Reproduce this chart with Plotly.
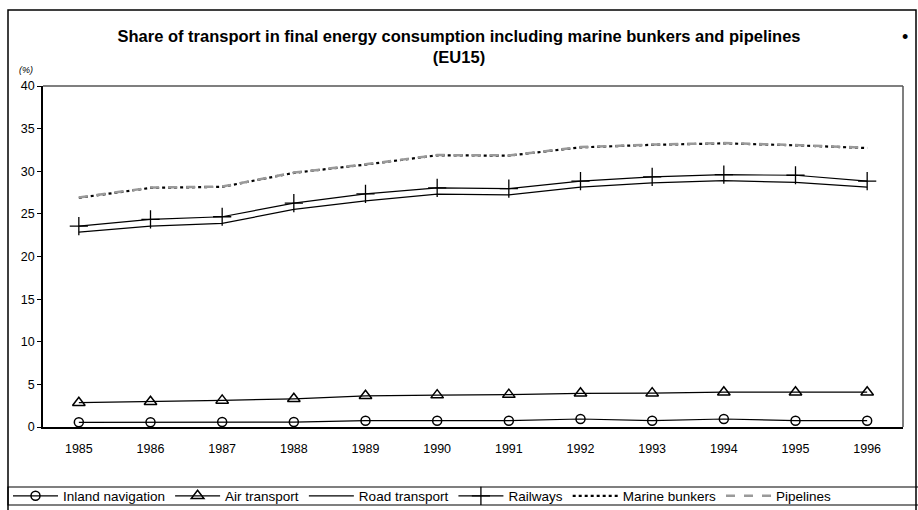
import plotly.graph_objects as go

years = ["1985", "1986", "1987", "1988", "1989", "1990", "1991", "1992", "1993", "1994", "1995", "1996"]
inland_navigation = [0.55, 0.55, 0.58, 0.58, 0.74, 0.74, 0.74, 0.94, 0.74, 0.94, 0.74, 0.74]
air_transport = [2.85, 2.96, 3.12, 3.31, 3.66, 3.74, 3.80, 3.95, 3.97, 4.08, 4.08, 4.08]
road_transport = [22.87, 23.57, 23.89, 25.52, 26.53, 27.31, 27.23, 28.13, 28.64, 28.90, 28.70, 28.13]
railways = [23.57, 24.36, 24.66, 26.26, 27.35, 28.05, 27.97, 28.83, 29.34, 29.60, 29.53, 28.83]
marine_bunkers = [26.88, 28.05, 28.17, 29.81, 30.78, 31.87, 31.83, 32.80, 33.10, 33.27, 33.04, 32.72]
pipelines = [26.92, 28.08, 28.20, 29.84, 30.81, 31.90, 31.86, 32.83, 33.13, 33.30, 33.07, 32.75]
y_ticks = [0, 5, 10, 15, 20, 25, 30, 35, 40]

FONT = "Liberation Sans, Arial, sans-serif"
fig = go.Figure()

fig.add_trace(go.Scatter(x=years, y=inland_navigation, name="Inland navigation", mode="lines+markers",
                         line=dict(color="black", width=1.2),
                         marker=dict(symbol="circle-open", size=9, color="black", line=dict(width=1.5))))
fig.add_trace(go.Scatter(x=years, y=air_transport, name="Air transport", mode="lines+markers",
                         line=dict(color="black", width=1.2),
                         marker=dict(symbol="triangle-up-open", size=11, color="black", line=dict(width=1.5))))
fig.add_trace(go.Scatter(x=years, y=road_transport, name="Road transport", mode="lines",
                         line=dict(color="black", width=1.2)))
fig.add_trace(go.Scatter(x=years, y=railways, name="Railways", mode="lines+markers",
                         line=dict(color="black", width=1.2),
                         marker=dict(symbol="cross-thin-open", size=13, color="black", line=dict(width=1.3, color="black"))))
fig.add_trace(go.Scatter(x=years, y=marine_bunkers, name="Marine bunkers", mode="lines",
                         line=dict(color="black", width=2.2, dash="dot")))
fig.add_trace(go.Scatter(x=years, y=pipelines, name="Pipelines", mode="lines",
                         line=dict(color="#9a9a9a", width=2.5, dash="dash")))

def px(x):
    return (x - 43) / 860.0

def py(y):
    return (427 - y) / 341.0

shapes = [
    # outer chart border
    dict(type="rect", xref="paper", yref="paper", x0=px(8), x1=px(916), y0=py(515), y1=py(10),
         line=dict(color="black", width=1.5), fillcolor="rgba(0,0,0,0)", layer="below"),
    # legend box
    dict(type="rect", xref="paper", yref="paper", x0=px(8), x1=px(930), y0=py(505), y1=py(487),
         line=dict(color="black", width=1.2), fillcolor="rgba(0,0,0,0)"),
    # plot area top and right
    dict(type="line", xref="paper", yref="paper", x0=0, x1=1, y0=1, y1=1,
         line=dict(color="#555555", width=1.5)),
    dict(type="line", xref="paper", yref="paper", x0=1, x1=1, y0=0, y1=1,
         line=dict(color="#555555", width=1.5)),
]

fig.update_layout(
    width=918, height=510,
    margin=dict(l=43, r=15, t=86, b=83, autoexpand=False),
    paper_bgcolor="white", plot_bgcolor="white",
    font=dict(family=FONT, color="black", size=12),
    title=dict(text="<b>Share of transport in final energy consumption including marine bunkers and pipelines<br>(EU15)</b>",
               x=459 / 918, xanchor="center", xref="container", y=1 - 42 / 510, yanchor="middle",
               yref="container", font=dict(size=16.5, family=FONT)),
    showlegend=True,
    legend=dict(orientation="h", x=px(8), xanchor="left", y=py(496), yanchor="middle",
                font=dict(size=13.5, family=FONT), bgcolor="rgba(0,0,0,0)",
                itemwidth=45, tracegroupgap=0, traceorder="normal"),
    shapes=shapes,
    xaxis=dict(type="category", range=[-0.5, 11.5], showgrid=False, zeroline=False,
               showline=True, linecolor="black", linewidth=1.5, ticks="",
               tickfont=dict(size=12.5, family=FONT), ticklabelstandoff=9),
    yaxis=dict(range=[0, 40], tickvals=y_ticks, showgrid=False, zeroline=False,
               showline=True, linecolor="black", linewidth=1.5, ticks="outside", ticklen=4,
               tickcolor="black", tickfont=dict(size=12.5, family=FONT)),
    annotations=[
        dict(text="<i>(%)</i>", xref="paper", yref="paper", x=px(17), y=py(63), showarrow=False,
             font=dict(size=9, family=FONT)),
        dict(text="•", xref="paper", yref="paper", x=px(910), y=py(25), showarrow=False,
             font=dict(size=18, family=FONT)),
    ],
)

fig.write_html("out.html", config={"displayModeBar": False},
               post_script="document.body.style.margin='0';document.body.style.overflow='hidden';")
